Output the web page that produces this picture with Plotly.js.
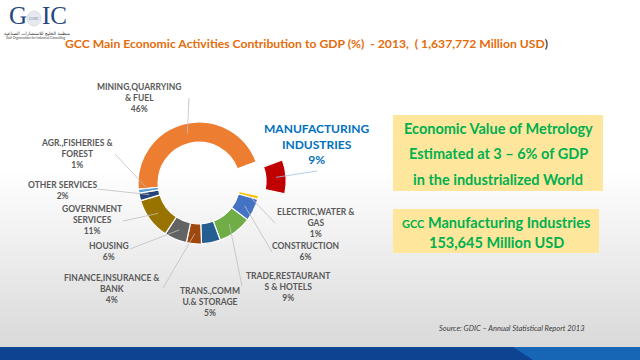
<!DOCTYPE html>
<html><head><meta charset="utf-8">
<script src="https://cdn.plot.ly/plotly-3.0.1.min.js"></script>
<style>
html,body{margin:0;padding:0;width:640px;height:360px;overflow:hidden;background:#fff;}
#bg{position:absolute;left:0;top:0;width:640px;height:360px;background:linear-gradient(to bottom,#ffffff 0px,#ffffff 170px,#d9d9d9 347px);}
#band{position:absolute;left:0;top:347px;width:640px;height:13px;background:#0e4391;}
#band2{position:absolute;left:0;top:347px;width:640px;height:13px;background:#1766b5;clip-path:polygon(513px 0,640px 0,640px 13px,533px 13px);}
#chart{position:absolute;left:0;top:0;width:640px;height:360px;}
</style></head><body>
<div id="bg"></div><div id="band"></div><div id="band2"></div><div id="chart"></div>
<script>
// ---- data ----
const categories = ['MINING,QUARRYING<br>& FUEL', 'MANUFACTURING<br>INDUSTRIES', 'ELECTRIC,WATER &<br>GAS', 'CONSTRUCTION', 'TRADE,RESTAURANT<br>S & HOTELS', 'TRANS.,COMM<br>U.& STORAGE', 'FINANCE,INSURANCE &<br>BANK', 'HOUSING', 'GOVERNMENT<br>SERVICES', 'OTHER SERVICES', 'AGR.,FISHERIES &<br>FOREST'];
const shares = [46, 9, 1, 6, 9, 5, 4, 6, 11, 2, 1];
const titleText = 'GCC Main Economic Activities Contribution to GDP (%)  - 2013,  ( 1,637,772 Million USD';
const box1Lines = ['Economic Value of Metrology', 'Estimated at 3 \u2013 6% of GDP', 'in the industrialized World'];
const box2Lines = ['<span style="font-size:11px">GCC</span> Manufacturing Industries', '153,645 Million USD'];
const sourceText = 'Source: GDIC \u2013 Annual Statistical Report 2013';

// ---- styles / layout ----
const sliceColors = ['#ED7D31','#C00000','#FFC000','#4472C4','#70AD47','#255E91','#9E480E','#636363','#997300','#264478','#5B9BD5'];
const pulls = [0, 0.43, 0, 0, 0, 0, 0, 0, 0, 0, 0];
const W = 640, H = 360;
const cx = 199, cy = 183, R = 61, hole = 0.67, rotation = -96;
const labelPos = [[139,98],[317,144],[316,223],[305,251.5],[288,287],[210,302],[112,289],[109,251.5],[92,220],[62,190],[77,154]];
const leaderEnds = [[189,98],[317,171],[275,223],[272,252],[242,286],null,[163,288],[130,249],[123,221],[97,189],[115,154]];

const X = x => x / W, Y = y => 1 - y / H;
const maxPull = Math.max(...pulls);
const half = R * (1 + maxPull);

const total = shares.reduce((a, b) => a + b, 0);
let cum = 0;
const mids = shares.map(v => { const m = rotation + (cum + v / 2) / total * 360; cum += v; return m; });
function ringPoint(i, frac) {
  const a = mids[i] * Math.PI / 180;
  const r = R * frac + pulls[i] * R;
  return [cx + r * Math.sin(a), cy - r * Math.cos(a)];
}

const trace = {
  type: 'pie', values: shares, labels: categories.map(c => c.replace('<br>', ' ')),
  sort: false, direction: 'clockwise', rotation: rotation, hole: hole, pull: pulls,
  marker: {colors: sliceColors, line: {color: '#ffffff', width: 1.2}},
  textinfo: 'none', hoverinfo: 'none', showlegend: false,
  domain: {x: [X(cx - half), X(cx + half)], y: [Y(cy + half), Y(cy - half)]}
};

const annotations = [];
const shapes = [];
const labelFont = {family: 'Lato, sans-serif', size: 8.5, color: '#595959', weight: 'bold'};

categories.forEach((c, i) => {
  const isMfg = i === 1;
  annotations.push({
    xref: 'paper', yref: 'paper', x: X(labelPos[i][0]), y: Y(labelPos[i][1]),
    xanchor: 'center', yanchor: 'middle', showarrow: false, align: 'center',
    text: '<b>' + c + '<br>' + shares[i] + '%</b>',
    font: isMfg ? {family: 'Lato, sans-serif', size: 12, color: '#0070C0'} : labelFont
  });
  if (leaderEnds[i]) {
    const p = ringPoint(i, (1 + hole) / 2);
    shapes.push({type: 'line', xref: 'paper', yref: 'paper',
      x0: X(p[0]), y0: Y(p[1]), x1: X(leaderEnds[i][0]), y1: Y(leaderEnds[i][1]),
      line: {color: isMfg ? '#9DC3E6' : '#BFBFBF', width: 0.8}});
  }
});

// title
annotations.push({xref: 'paper', yref: 'paper', x: X(63), y: Y(43.5), xanchor: 'left', yanchor: 'middle', showarrow: false,
  text: '<b>' + titleText + '</b><span style="color:#000">)</span>',
  font: {family: 'Lato, sans-serif', size: 12.2, color: '#E46C0A'}});

// right boxes
shapes.push({type: 'rect', xref: 'paper', yref: 'paper', x0: X(393), x1: X(603), y0: Y(191), y1: Y(115), fillcolor: '#FEE69D', line: {width: 0}, layer: 'below'});
shapes.push({type: 'rect', xref: 'paper', yref: 'paper', x0: X(393), x1: X(599), y0: Y(253), y1: Y(209), fillcolor: '#FEE69D', line: {width: 0}, layer: 'below'});
const greenFont = {family: 'Lato, sans-serif', size: 14.5, color: '#00B050'};
[128, 153, 179].forEach((y, k) => annotations.push({xref: 'paper', yref: 'paper', x: X(498), y: Y(y), xanchor: 'center', yanchor: 'middle', showarrow: false, text: '<b>' + box1Lines[k] + '</b>', font: greenFont}));
[222, 242].forEach((y, k) => annotations.push({xref: 'paper', yref: 'paper', x: X(496), y: Y(y), xanchor: 'center', yanchor: 'middle', showarrow: false, text: '<b>' + box2Lines[k] + '</b>', font: greenFont}));

// source
annotations.push({xref: 'paper', yref: 'paper', x: X(437), y: Y(328), xanchor: 'left', yanchor: 'middle', showarrow: false,
  text: '<i>' + sourceText + '</i>', font: {family: 'Lato, sans-serif', size: 7.5, color: '#404040'}});

// logo
shapes.push({type: 'circle', xref: 'paper', yref: 'paper', x0: X(27), x1: X(41), y0: Y(26), y1: Y(11), fillcolor: '#E6E9EF', line: {color: '#C9CED8', width: 0.6}});
const logoFont = {family: 'Liberation Serif, serif', size: 25, color: '#24467E'};
annotations.push({xref: 'paper', yref: 'paper', x: X(18), y: Y(16), xanchor: 'center', yanchor: 'middle', showarrow: false, borderpad: 0, text: 'G', font: logoFont});
annotations.push({xref: 'paper', yref: 'paper', x: X(54), y: Y(16), xanchor: 'center', yanchor: 'middle', showarrow: false, borderpad: 0, text: 'IC', font: logoFont});
annotations.push({xref: 'paper', yref: 'paper', x: X(34), y: Y(18.5), xanchor: 'center', yanchor: 'middle', showarrow: false, borderpad: 0, text: '<i>GOIC</i>', font: {family: 'Liberation Serif, serif', size: 4, color: '#7A8296'}});
annotations.push({xref: 'paper', yref: 'paper', x: X(37), y: Y(33.5), xanchor: 'center', yanchor: 'middle', showarrow: false, borderpad: 0, text: 'منظمة الخليج للاستشارات الصناعية', font: {family: 'DejaVu Sans, sans-serif', size: 4.5, color: '#333'}});
annotations.push({xref: 'paper', yref: 'paper', x: X(35), y: Y(38.5), xanchor: 'center', yanchor: 'middle', showarrow: false, borderpad: 0, text: 'Gulf Organization for Industrial Consulting', font: {family: 'Lato, sans-serif', size: 3.2, color: '#444'}});

const layout = {
  width: W, height: H, margin: {l: 0, r: 0, t: 0, b: 0},
  paper_bgcolor: 'rgba(0,0,0,0)', plot_bgcolor: 'rgba(0,0,0,0)',
  showlegend: false, annotations: annotations, shapes: shapes
};
Plotly.newPlot('chart', [trace], layout, {displayModeBar: false, staticPlot: true});
</script></body></html>
